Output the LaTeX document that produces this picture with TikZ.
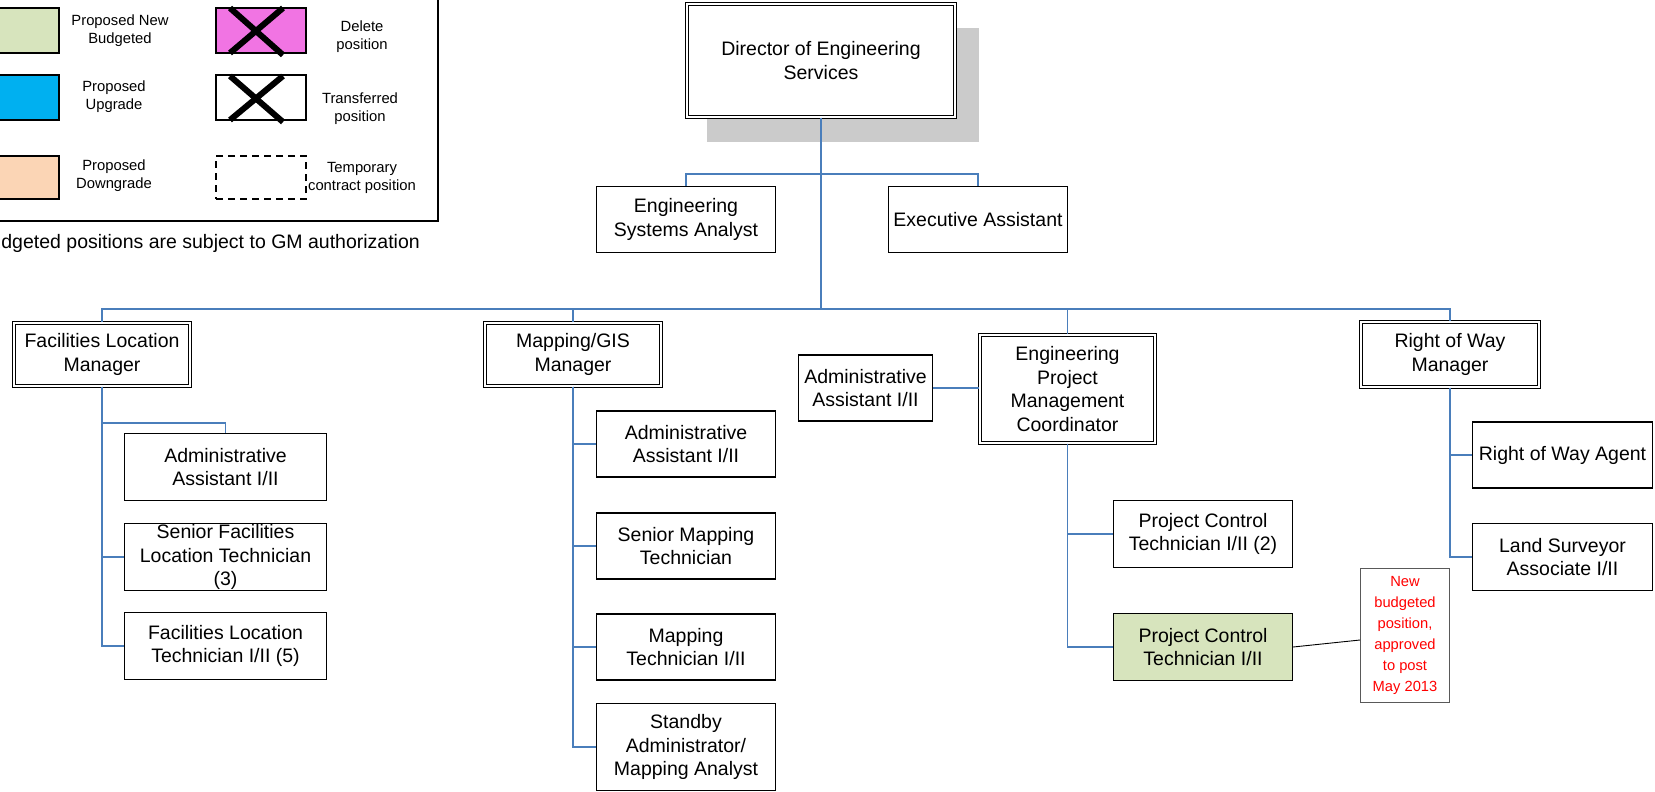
\documentclass[tikz,border=0pt]{standalone}
\usepackage{fontspec}
\setmainfont{Liberation Sans}
\definecolor{conn}{HTML}{4A7EBB}
\definecolor{newbud}{HTML}{D7E4BD}
\definecolor{upgr}{HTML}{00B0F0}
\definecolor{downg}{HTML}{FBD5B5}
\definecolor{delpink}{HTML}{F174E3}
\definecolor{shadowgray}{HTML}{CBCBCB}
\definecolor{notered}{HTML}{FF0000}
\newcommand{\boxfont}{\fontsize{19.5}{23.5}\selectfont}
\newcommand{\legfont}{\fontsize{14.8}{18}\selectfont}
\newcommand{\notefont}{\fontsize{14.7}{21}\selectfont}
\begin{document}
\begin{tikzpicture}[x=1pt,y=-1pt,
  posbox/.style={draw=black, line width=1.3pt, inner sep=0pt, align=center, font=\boxfont},
  mgr/.style={draw=black, line width=1.1pt, double=white, double distance=1.8pt, inner sep=0pt, align=center, font=\boxfont, fill=white},
  link/.style={draw=conn, line width=1.5pt},
  swatch/.style={draw=black, line width=1.5pt, inner sep=0pt, minimum width=68pt, minimum height=45pt},
  legbox/.style={draw=black, line width=1.5pt, inner sep=0pt, minimum width=90pt, minimum height=45pt},
  leglabel/.style={align=center, font=\legfont, inner sep=0pt},
  xmark/.style={draw=black, line width=6pt}
]
\useasboundingbox (0,0) rectangle (1655,792);
\clip (0,0) rectangle (1655,792);

% ---------- legend ----------
\draw[line width=1.5pt] (-20,-10) rectangle (438,221);
\node[swatch, fill=newbud, minimum width=70pt] (sw1) at (24,30.5) {};
\node[swatch, fill=upgr, minimum width=70pt] (sw2) at (24,97.5) {};
\node[swatch, fill=downg, minimum width=70pt, minimum height=43pt] (sw3) at (24,177.5) {};
\node[leglabel] (l1) at (120,31) {Proposed New\\Budgeted};
\node[leglabel] (l2) at (114,97) {Proposed\\Upgrade};
\node[leglabel] (l3) at (114,176) {Proposed\\Downgrade};

\node[legbox, fill=delpink] (lb1) at (261,30.5) {};
\draw[xmark] (230,8) -- (283,55);
\draw[xmark] (283,8) -- (230,53);
\node[legbox, fill=white] (lb2) at (261,97.5) {};
\draw[xmark] (230,76) -- (283,122);
\draw[xmark] (283,76) -- (230,120);
\node[legbox, dashed, dash pattern=on 7pt off 5pt, minimum height=43pt] (lb3) at (261,177.5) {};
\node[leglabel] (l4) at (362,37) {Delete\\position};
\node[leglabel] (l5) at (360,109) {Transferred\\position};
\node[leglabel] (l6) at (362,177.5) {Temporary\\contract position};

\node[anchor=east, font=\boxfont, inner sep=0pt] (gm) at (420,243) {Budgeted positions are subject to GM authorization};

% ---------- top ----------
\fill[shadowgray] (707,28) rectangle (979,142);
\node[mgr, minimum width=268pt, minimum height=113pt] (dir) at (821,60.5) {Director of Engineering\\Services};
\node[posbox, minimum width=179pt, minimum height=66pt] (esa) at (686,219.5) {Engineering\\Systems Analyst};
\node[posbox, minimum width=179pt, minimum height=66pt] (ea) at (978,219.5) {Executive Assistant};

% ---------- managers ----------
\node[mgr, minimum width=176pt, minimum height=63pt] (flm) at (102,354.5) {Facilities Location\\Manager};
\node[mgr, minimum width=176pt, minimum height=63pt] (mgm) at (573,354.5) {Mapping/GIS\\Manager};
\node[mgr, minimum width=175pt, minimum height=108pt] (epmc) at (1067.5,389) {Engineering\\Project\\Management\\Coordinator};
\node[mgr, minimum width=178pt, minimum height=65pt] (rowm) at (1450,354.5) {Right of Way\\Manager};

% ---------- facilities ----------
\node[posbox, minimum width=202pt, minimum height=67pt] (fa1) at (225.5,467) {Administrative\\Assistant I/II};
\node[posbox, minimum width=202pt, minimum height=67pt] (fsr) at (225.5,557) {Senior Facilities\\Location Technician\\(3)};
\node[posbox, minimum width=202pt, minimum height=67pt] (ftech) at (225.5,646) {Facilities Location\\Technician I/II (5)};

% ---------- mapping ----------
\node[posbox, minimum width=179pt, minimum height=66pt] (ma) at (686,444) {Administrative\\Assistant I/II};
\node[posbox, minimum width=179pt, minimum height=66pt] (msmt) at (686,546) {Senior Mapping\\Technician};
\node[posbox, minimum width=179pt, minimum height=66pt] (mt) at (686,647) {Mapping\\Technician I/II};
\node[posbox, minimum width=179pt, minimum height=87pt] (msb) at (686,747) {Standby\\Administrator/\\Mapping Analyst};

% ---------- engineering project ----------
\node[posbox, minimum width=134pt, minimum height=66pt] (aa2) at (865.5,388) {Administrative\\Assistant I/II};
\node[posbox, minimum width=179pt, minimum height=67pt] (pct2) at (1203,534) {Project Control\\Technician I/II (2)};
\node[posbox, minimum width=179pt, minimum height=67pt, fill=newbud] (pctg) at (1203,647) {Project Control\\Technician I/II};
\node[draw=black!65, line width=0.8pt, inner sep=0pt, minimum width=89pt, minimum height=134pt, align=center, font=\notefont, text=notered] (note) at (1405,635.5) {New\\budgeted\\position,\\approved\\to post\\May 2013};

% ---------- right of way ----------
\node[posbox, minimum width=180pt, minimum height=66pt] (rowa) at (1562.5,455) {Right of Way Agent};
\node[posbox, minimum width=180pt, minimum height=67pt] (lsa) at (1562.5,557) {Land Surveyor\\Associate I/II};

% ---------- connectors ----------
\coordinate (t1) at (821,174);
\coordinate (bus) at (821,309);
\draw[link] (dir.south) -- (bus);
\draw[link] (esa.north) |- (t1) -| (ea.north);
\draw[link] (flm.north) |- (bus) -| (rowm.north);
\draw[link] (mgm.north) |- (bus);
\draw[link] (epmc.north) |- (bus);

\draw[link] (flm.south) |- ([yshift=10pt]fa1.north) -- (fa1.north);
\draw[link] (flm.south) |- (fsr.west);
\draw[link] (flm.south) |- (ftech.west);

\draw[link] (mgm.south) |- (ma.west);
\draw[link] (mgm.south) |- (msmt.west);
\draw[link] (mgm.south) |- (mt.west);
\draw[link] (mgm.south) |- (msb.west);

\draw[link] (aa2.east) -- (aa2.east -| epmc.west);
\draw[link] (epmc.south) |- (pct2.west);
\draw[link] (epmc.south) |- (pctg.west);

\draw[link] (rowm.south) |- (rowa.west);
\draw[link] (rowm.south) |- (lsa.west);

\draw[black, line width=0.9pt] (pctg.east) -- ([yshift=-4.5pt]note.west);
\end{tikzpicture}
\end{document}
